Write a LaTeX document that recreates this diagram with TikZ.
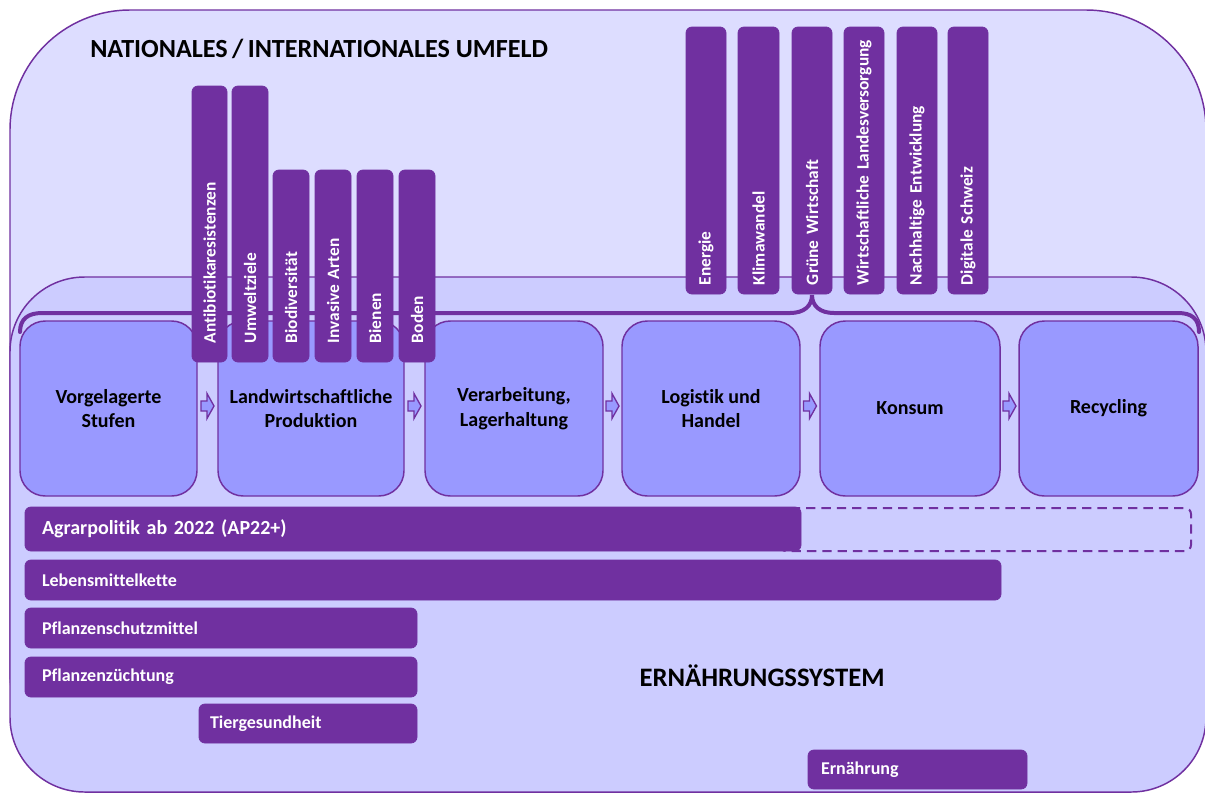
\documentclass[tikz,border=0pt]{standalone}
\usepackage{fontspec}
\setmainfont{Carlito}[Ligatures=NoCommon]
\usetikzlibrary{calc}

\definecolor{purp}{HTML}{7030A0}
\definecolor{outerfill}{HTML}{DDDDFF}
\definecolor{innerfill}{HTML}{CCCCFF}
\definecolor{boxfill}{HTML}{9999FF}

\def\u{0.75pt}

% hollow block arrow centred on a named coordinate
\newcommand\flowarrow[1]{%
  \draw[flow] (#1) ++(-6.5,-5) -- ++(6,0) -- ++(0,-7.5) -- ++(7,12.5)
    -- ++(-7,12.5) -- ++(0,-7.5) -- ++(-6,0) -- cycle;}

\begin{document}
\begin{tikzpicture}[x=0.75pt,y=-0.75pt,
  proc/.style={draw=purp, fill=boxfill, line width=1.1pt, rounded corners=19pt,
    align=center, inner sep=0pt, text=black,
    font=\bfseries\fontsize{15}{18.5}\selectfont},
  hbar/.style={fill=purp, draw=purp, line width=0.6pt, rounded corners=4.5pt,
    text=white, align=left, inner ysep=0pt,
    font=\bfseries\fontsize{13.5}{16}\selectfont},
  bigbar/.style={hbar, font=\bfseries\fontsize{15}{18}\selectfont},
  vbar/.style={fill=purp, draw=purp, line width=0.6pt, rounded corners=4.5pt,
    text=white, align=left, rotate=90, inner ysep=0pt,
    font=\bfseries\fontsize{13}{15}\selectfont},
  flow/.style={draw=purp, fill=boxfill, line width=1pt, line join=miter},
  heading/.style={text=black, inner sep=0pt,
    font=\bfseries\fontsize{20}{23}\selectfont},
  frame/.style={draw=purp, line width=1.1pt}
]
\useasboundingbox (0,0) rectangle (1205,794);
\fill[white] (0,0) rectangle (1205,794);
\clip (0,0) rectangle (1205,794);

% national / international surroundings
\draw[frame, fill=outerfill, rounded corners=90pt] (10,10) rectangle (1206,792);
% food system
\draw[frame, fill=innerfill, rounded corners=56pt] (10,277) rectangle (1206,792);

% brace spanning the value chain
\coordinate (brL) at (20,332);
\coordinate (brTip) at (812,295);
\coordinate (brR) at (1199,332);
\draw[purp, line width=3pt, line cap=round]
  (brL) .. controls (20,319) and (28,313) .. (42,313)
  -- (790,313) .. controls (804,313) and (812,306) .. (brTip)
  .. controls (812,306) and (820,313) .. (834,313)
  -- (1178,313) .. controls (1192,313) and (1199,319) .. (brR);

% value chain steps
\node[proc, minimum width=177*\u, minimum height=175*\u] (b1) at (108.5,408.5) {Vorgelagerte\\Stufen};
\node[proc, minimum width=186*\u, minimum height=175*\u] (b2) at (311,408.5) {Landwirtschaftliche\\Produktion};
\node[proc, minimum width=178*\u, minimum height=175*\u] (b3) at (514,408.5) {Verarbeitung,\\Lagerhaltung};
\node[proc, minimum width=178*\u, minimum height=175*\u] (b4) at (711,408.5) {Logistik und\\Handel};
\node[proc, minimum width=180*\u, minimum height=175*\u] (b5) at (910,408.5) {Konsum};
\node[proc, minimum width=179*\u, minimum height=175*\u] (b6) at (1108.5,408.5) {Recycling};

\foreach \a/\b in {b1/b2,b2/b3,b3/b4,b4/b5,b5/b6}{
  \coordinate (f\a\b) at ($(\a.east)!0.5!(\b.west) + (0,-2.5)$);
  \flowarrow{f\a\b}
}

% planned extension of the agricultural policy
\draw[purp, line width=1.5pt, dash pattern=on 7pt off 4.5pt, rounded corners=4.5pt]
  (780,508) rectangle (1191,551);

% policy fields across the system
\node[bigbar, minimum height=44*\u, text width=742*\u, inner xsep=17*\u] (agrar) at (413,529) {Agrarpolitik ab 2022 (AP22+)};
\node[hbar, minimum height=40*\u, text width=942*\u, inner xsep=17*\u] (lmk) at (513,580) {Lebensmittelkette};
\node[hbar, minimum height=40*\u, text width=358*\u, inner xsep=17*\u] (psm) at (221,628) {Pflanzenschutzmittel};
\node[hbar, minimum height=40*\u, text width=358*\u, inner xsep=17*\u] (pz) at (221,677) {Pflanzenzüchtung};
\node[hbar, minimum height=39*\u, text width=196*\u, inner xsep=11*\u] (tg) at (308,723.5) {Tiergesundheit};
\node[hbar, minimum height=39*\u, text width=193*\u, inner xsep=13*\u] (ern) at (917.5,769.5) {Ernährung};

% topics of agricultural production
\node[vbar, minimum height=35*\u, text width=238*\u, inner xsep=19*\u] (v1) at (209.5,224) {Antibiotikaresistenzen};
\node[vbar, minimum height=36*\u, text width=238*\u, inner xsep=19*\u] (v2) at (250,224) {Umweltziele};
\node[vbar, minimum height=36*\u, text width=154*\u, inner xsep=19*\u] (v3) at (291,266) {Biodiversität};
\node[vbar, minimum height=36*\u, text width=154*\u, inner xsep=19*\u] (v4) at (333,266) {Invasive Arten};
\node[vbar, minimum height=36*\u, text width=154*\u, inner xsep=19*\u] (v5) at (375,266) {Bienen};
\node[vbar, minimum height=36*\u, text width=154*\u, inner xsep=19*\u] (v6) at (417,266) {Boden};

% overarching topics
\node[vbar, minimum height=40*\u, text width=249*\u, inner xsep=9*\u] (w1) at (706,160.5) {Energie};
\node[vbar, minimum height=41*\u, text width=249*\u, inner xsep=9*\u] (w2) at (758.5,160.5) {Klimawandel};
\node[vbar, minimum height=40*\u, text width=249*\u, inner xsep=9*\u] (w3) at (812,160.5) {Grüne Wirtschaft};
\node[vbar, minimum height=40*\u, text width=249*\u, inner xsep=9*\u] (w4) at (864,160.5) {Wirtschaftliche Landesversorgung};
\node[vbar, minimum height=40*\u, text width=249*\u, inner xsep=9*\u] (w5) at (917,160.5) {Nachhaltige Entwicklung};
\node[vbar, minimum height=40*\u, text width=249*\u, inner xsep=9*\u] (w6) at (968,160.5) {Digitale Schweiz};

% headings
\node[heading, anchor=west, font=\bfseries\fontsize{19.6}{23}\selectfont] (tnat) at (90,49) {NATIONALES\,/\,INTERNATIONALES UMFELD};
\node[heading] (tsys) at (762,676) {ERNÄHRUNGSSYSTEM};
\end{tikzpicture}
\end{document}
